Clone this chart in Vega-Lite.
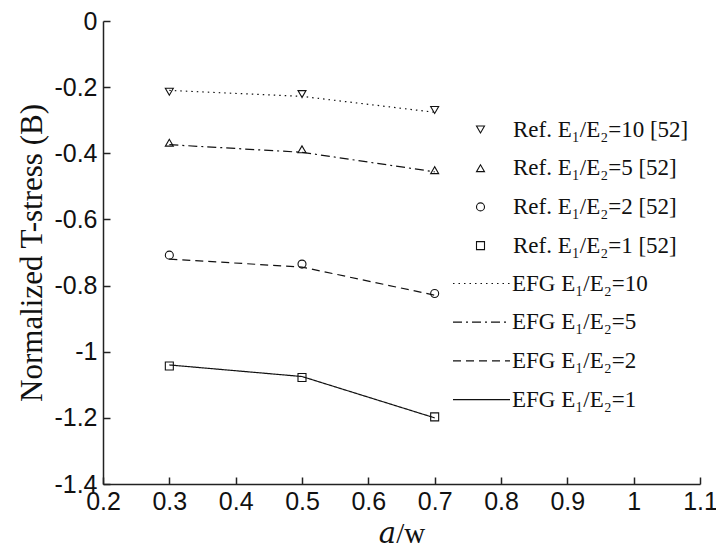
{
  "$schema": "https://vega.github.io/schema/vega-lite/v6.json",
  "autosize": "none",
  "width": 597,
  "height": 463,
  "padding": {"left": 103, "top": 21, "right": 16, "bottom": 64},
  "background": "white",
  "config": {
    "view": {"stroke": null},
    "axis": {
      "domainColor": "#222",
      "domainWidth": 1.5,
      "tickColor": "#222",
      "tickWidth": 1.5,
      "tickSize": -7,
      "grid": false,
      "labelFont": "Liberation Sans",
      "labelFontSize": 25,
      "labelColor": "#111",
      "labelFlush": false,
      "labelOverlap": false,
      "titleFont": "Liberation Serif, DejaVu Serif",
      "titleFontWeight": "normal",
      "titleColor": "#111"
    },
    "legend": {
      "labelFont": "Liberation Serif",
      "labelFontSize": 23,
      "labelColor": "#111",
      "labelLimit": 400,
      "padding": 0,
      "orient": "none"
    }
  },
  "data": {
    "values": [
      {"x": 0.3, "y": -0.214, "series": "Ref. E₁/E₂=10 [52]", "kind": "ref"},
      {"x": 0.5, "y": -0.221, "series": "Ref. E₁/E₂=10 [52]", "kind": "ref"},
      {"x": 0.7, "y": -0.269, "series": "Ref. E₁/E₂=10 [52]", "kind": "ref"},
      {"x": 0.3, "y": -0.368, "series": "Ref. E₁/E₂=5 [52]", "kind": "ref"},
      {"x": 0.5, "y": -0.388, "series": "Ref. E₁/E₂=5 [52]", "kind": "ref"},
      {"x": 0.7, "y": -0.451, "series": "Ref. E₁/E₂=5 [52]", "kind": "ref"},
      {"x": 0.3, "y": -0.708, "series": "Ref. E₁/E₂=2 [52]", "kind": "ref"},
      {"x": 0.5, "y": -0.735, "series": "Ref. E₁/E₂=2 [52]", "kind": "ref"},
      {"x": 0.7, "y": -0.824, "series": "Ref. E₁/E₂=2 [52]", "kind": "ref"},
      {"x": 0.3, "y": -1.043, "series": "Ref. E₁/E₂=1 [52]", "kind": "ref"},
      {"x": 0.5, "y": -1.078, "series": "Ref. E₁/E₂=1 [52]", "kind": "ref"},
      {"x": 0.7, "y": -1.197, "series": "Ref. E₁/E₂=1 [52]", "kind": "ref"},
      {"x": 0.3, "y": -0.21, "series": "EFG E₁/E₂=10", "kind": "efg"},
      {"x": 0.5, "y": -0.228, "series": "EFG E₁/E₂=10", "kind": "efg"},
      {"x": 0.7, "y": -0.276, "series": "EFG E₁/E₂=10", "kind": "efg"},
      {"x": 0.3, "y": -0.374, "series": "EFG E₁/E₂=5", "kind": "efg"},
      {"x": 0.5, "y": -0.397, "series": "EFG E₁/E₂=5", "kind": "efg"},
      {"x": 0.7, "y": -0.456, "series": "EFG E₁/E₂=5", "kind": "efg"},
      {"x": 0.3, "y": -0.72, "series": "EFG E₁/E₂=2", "kind": "efg"},
      {"x": 0.5, "y": -0.744, "series": "EFG E₁/E₂=2", "kind": "efg"},
      {"x": 0.7, "y": -0.829, "series": "EFG E₁/E₂=2", "kind": "efg"},
      {"x": 0.3, "y": -1.04, "series": "EFG E₁/E₂=1", "kind": "efg"},
      {"x": 0.5, "y": -1.075, "series": "EFG E₁/E₂=1", "kind": "efg"},
      {"x": 0.7, "y": -1.2, "series": "EFG E₁/E₂=1", "kind": "efg"}
    ]
  },
  "encoding": {
    "x": {
      "field": "x",
      "type": "quantitative",
      "scale": {"domain": [0.2, 1.1], "nice": false, "zero": false},
      "axis": {
        "title": "𝑎/w",
        "titleFontSize": 29,
        "values": [0.2, 0.3, 0.4, 0.5, 0.6, 0.7, 0.8, 0.9, 1, 1.1],
        "labelExpr": "'' + datum.value",
        "labelPadding": 12,
        "titlePadding": 5
      }
    },
    "y": {
      "field": "y",
      "type": "quantitative",
      "scale": {"domain": [-1.4, 0], "nice": false, "zero": false},
      "axis": {
        "title": "Normalized T-stress (B)",
        "titleFontSize": 31,
        "values": [-1.4, -1.2, -1, -0.8, -0.6, -0.4, -0.2, 0],
        "labelExpr": "'' + datum.value",
        "labelPadding": 13,
        "titlePadding": 5
      }
    }
  },
  "layer": [
    {
      "transform": [{"filter": "datum.kind === 'efg'"}],
      "mark": {"type": "line", "color": "#111", "strokeWidth": 1.2},
      "encoding": {
        "strokeDash": {
          "field": "series",
          "type": "nominal",
          "scale": {
            "domain": ["EFG E₁/E₂=10", "EFG E₁/E₂=5", "EFG E₁/E₂=2", "EFG E₁/E₂=1"],
            "range": [[1.5, 4], [9, 4, 2, 4], [8, 5], [1, 0]]
          },
          "legend": {
            "title": null,
            "symbolType": "M-3,0H3",
            "symbolSize": 361,
            "symbolStrokeColor": "#111",
            "symbolStrokeWidth": 1.2,
            "rowPadding": 14.7,
            "labelOffset": 19,
            "legendX": 367,
            "legendY": 251
          }
        }
      }
    },
    {
      "transform": [{"filter": "datum.kind === 'ref'"}],
      "mark": {"type": "point", "filled": false, "color": "#111", "size": 64, "strokeWidth": 1.1, "opacity": 1},
      "encoding": {
        "shape": {
          "field": "series",
          "type": "nominal",
          "scale": {
            "domain": ["Ref. E₁/E₂=10 [52]", "Ref. E₁/E₂=5 [52]", "Ref. E₁/E₂=2 [52]", "Ref. E₁/E₂=1 [52]"],
            "range": ["triangle-down", "triangle-up", "circle", "square"]
          },
          "legend": {
            "title": null,
            "symbolSize": 64,
            "symbolStrokeColor": "#111",
            "symbolFillColor": "transparent",
            "symbolStrokeWidth": 1.1,
            "rowPadding": 14.7,
            "labelOffset": 21,
            "legendX": 366,
            "legendY": 97
          }
        }
      }
    }
  ]
}
